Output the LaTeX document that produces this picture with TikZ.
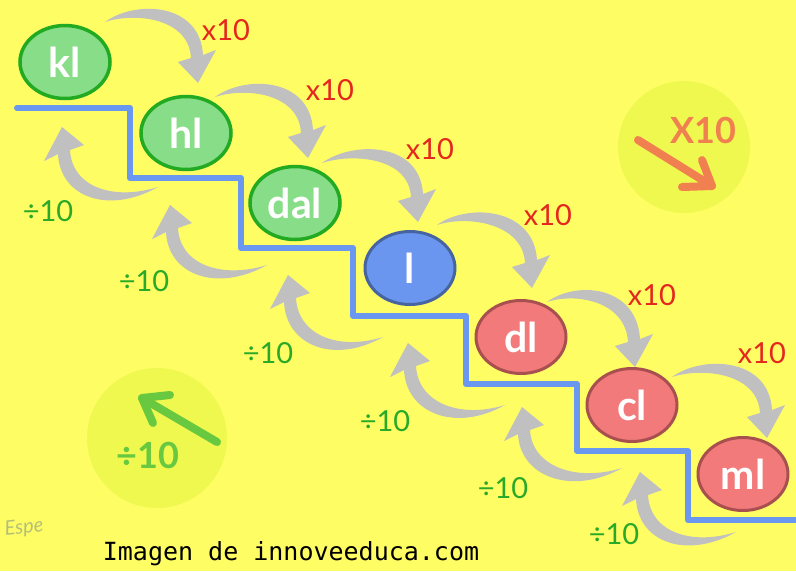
\documentclass[tikz,border=0pt]{standalone}
\usepackage{fontspec}
\setmainfont{Lato}
\newfontfamily\monofam{DejaVu Sans Mono}
\usetikzlibrary{shapes.geometric,calc}
\definecolor{bgyellow}{RGB}{255,253,100}
\definecolor{circyellow}{RGB}{238,248,78}
\definecolor{arrgray}{RGB}{192,192,192}
\definecolor{txtred}{RGB}{228,40,30}
\definecolor{txtgreen}{RGB}{40,170,40}
\definecolor{gfill}{RGB}{136,222,136}
\definecolor{gline}{RGB}{34,170,34}
\definecolor{bfill}{RGB}{106,150,240}
\definecolor{bline}{RGB}{70,100,160}
\definecolor{rfill}{RGB}{242,122,122}
\definecolor{rline}{RGB}{168,80,80}
\definecolor{stairblue}{RGB}{106,152,240}
\definecolor{orangearr}{RGB}{240,128,80}
\definecolor{greenarr}{RGB}{104,200,64}
\definecolor{sigcol}{RGB}{180,190,120}
\newcommand\fwdarr[4]{%
  \path ($(#1)+(#3)$) coordinate (T) ($(#2)+(#4)$) coordinate (P);
  \fill[arrgray] (T) .. controls ($(T)+(30,-22)$) and ($(P)+(2,-81)$) .. ($(P)+(5,-28)$)
    -- ($(P)+(18,-33)$) -- (P) -- ($(P)+(-20,-21)$) -- ($(P)+(-7,-25)$)
    .. controls ($(P)+(-9,-65)$) and ($(T)+(30,-10)$) .. (T) -- cycle;}
\newcommand\backarr[4]{%
  \path ($(#1)+(#3)$) coordinate (T) ($(#2)+(#4)$) coordinate (P);
  \fill[arrgray] (T) .. controls ($(T)+(-50,28)$) and ($(P)+(-2,70)$) .. ($(P)+(-4,27)$)
    -- ($(P)+(-18,34)$) -- (P) -- ($(P)+(22,18)$) -- ($(P)+(8,23)$)
    .. controls ($(P)+(10,60)$) and ($(T)+(-45,14)$) .. (T) -- cycle;}
\tikzset{
  unit/.style={ellipse, minimum width=90pt, minimum height=73pt, inner sep=0pt,
    line width=3.5pt, text=white, font=\bfseries\fontsize{41}{41}\selectfont},
  gunit/.style={unit, fill=gfill, draw=gline},
  bunit/.style={unit, fill=bfill, draw=bline, line width=3pt},
  runit/.style={unit, fill=rfill, draw=rline, line width=3pt},
  mullab/.style={text=txtred, font=\fontsize{29}{30}\selectfont, inner sep=0pt},
  divlab/.style={text=txtgreen, font=\fontsize{29}{30}\selectfont, inner sep=0pt},
  bigarrow/.style={line width=8pt, line cap=round, line join=round},
}
\begin{document}
\begin{tikzpicture}[x=1pt,y=-1pt]
\useasboundingbox (0,0) rectangle (796,571);
\fill[bgyellow] (0,0) rectangle (796,571);
% hint circles
\fill[circyellow] (684,147) circle[radius=66];
\fill[circyellow] (157,438) circle[radius=70];
% stairs
\draw[stairblue, line width=6pt, line cap=round, line join=round]
  (17,108) -- (130,108) -- (130,178) -- (241,178) -- (241,248) -- (353,248)
  -- (353,316) -- (466,316) -- (466,384) -- (577,384) -- (577,451) -- (688,451)
  -- (688,520) -- (796,520);
% nodes
\node[gunit] (kl)  at (65,62)   {kl};
\node[gunit] (hl)  at (186,133) {hl};
\node[gunit] (dal) at (295,203) {dal};
\node[bunit] (l)   at (410,268) {l};
\node[runit] (dl)  at (521,337) {dl};
\node[runit] (cl)  at (632,405) {cl};
\node[runit] (ml)  at (743,474) {ml};
% forward arrows (x10)
\fwdarr{kl}{hl}{40,-40}{12,-50}
\fwdarr{hl}{dal}{29,-36}{13,-45}
\fwdarr{dal}{l}{27,-40}{8,-46}
\fwdarr{l}{dl}{27,-43}{11,-49}
\fwdarr{dl}{cl}{26,-35}{3,-38}
\fwdarr{cl}{ml}{40,-28}{24,-36}
% backward arrows (/10)
\backarr{hl}{kl}{-28,54}{-3,65}
\backarr{dal}{hl}{-28,62}{-16,72}
\backarr{l}{dal}{-27,69}{-7,72}
\backarr{dl}{l}{-16,68}{-2,75}
\backarr{cl}{dl}{-10,63}{1,70}
\backarr{ml}{cl}{-7,58}{8,67}
% labels
\node[mullab] (m1) at (226,30)  {x10};
\node[mullab] (m2) at (330,90)  {x10};
\node[mullab] (m3) at (430,149) {x10};
\node[mullab] (m4) at (548,215) {x10};
\node[mullab] (m5) at (652,295) {x10};
\node[mullab] (m6) at (762,353) {x10};
\node[divlab] (d1) at (48,211)  {÷10};
\node[divlab] (d2) at (144,281) {÷10};
\node[divlab] (d3) at (268,353) {÷10};
\node[divlab] (d4) at (385,421) {÷10};
\node[divlab] (d5) at (503,488) {÷10};
\node[divlab] (d6) at (614,534) {÷10};
% hint arrows
\coordinate (oa) at (638,140);
\coordinate (ob) at (712,186);
\coordinate (ow1) at (702,160);
\coordinate (ow2) at (682,187);
\draw[orangearr, bigarrow] (oa) -- (ob);
\draw[orangearr, bigarrow] (ow1) -- (ob) -- (ow2);
\node[text=orangearr, font=\bfseries\fontsize{36}{36}\selectfont, inner sep=0pt] (ox) at (703,130) {X10};
\coordinate (ga) at (217,442);
\coordinate (gb) at (142,398);
\coordinate (gw1) at (170,395);
\coordinate (gw2) at (153,423);
\draw[greenarr, bigarrow] (ga) -- (gb);
\draw[greenarr, bigarrow] (gw1) -- (gb) -- (gw2);
\node[text=greenarr, font=\bfseries\fontsize{36}{36}\selectfont, inner sep=0pt] (gx) at (148,455) {÷10};
% credits
\node[font=\monofam\fontsize{25}{25}\selectfont, inner sep=0pt] (cred) at (291,554) {Imagen de innoveeduca.com};
\node[text=sigcol, font=\itshape\fontsize{20}{20}\selectfont, inner sep=0pt, rotate=6] (sig) at (24,528) {Espe};
\end{tikzpicture}
\end{document}
